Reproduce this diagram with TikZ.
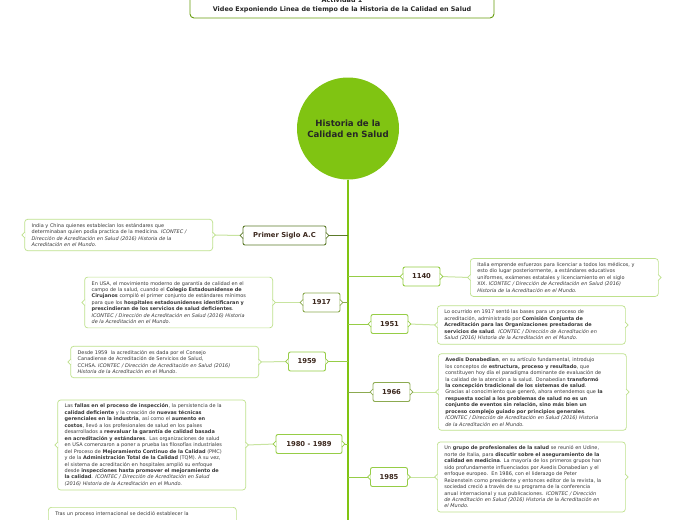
\documentclass[tikz,border=0pt]{standalone}
\usepackage{fontspec}
\setmainfont{DejaVu Sans}
\definecolor{lime}{RGB}{128,196,18}
\definecolor{olive}{RGB}{92,122,42}
\definecolor{midolive}{RGB}{140,170,80}
\definecolor{lightlime}{RGB}{150,205,70}
\definecolor{notegreen}{RGB}{190,225,140}
\definecolor{linkgreen}{RGB}{200,228,160}
\definecolor{datebrown}{RGB}{60,40,30}
\definecolor{notetext}{RGB}{55,55,55}
\tikzset{
  x=1pt,y=-1pt,
  note/.style={draw=notegreen,line width=0.7pt,rounded corners=3pt,fill=white,
    text width=174pt,inner xsep=7pt,inner ysep=4pt,align=left,text=notetext,
    font=\fontsize{4.95}{6.45}\selectfont},
  datebox/.style={draw=lightlime,line width=0.9pt,rounded corners=2pt,fill=white,
    minimum width=37pt,minimum height=19pt,inner xsep=4pt,text=datebrown,
    font=\bfseries\fontsize{6.8}{8}\selectfont},
  trunkline/.style={draw=lime,line width=1.3pt},
  branch/.style={draw=lightlime,line width=1pt},
  link/.style={draw=linkgreen,line width=1pt},
}
\newcommand\chev[2]{%
  \draw[#2,line width=0.7pt,fill=white,shift={(#1.east)}] (-0.6,-3) -- (2.4,0) -- (-0.6,3);
  \draw[#2,line width=0.7pt,fill=white,shift={(#1.west)}] (0.6,-3) -- (-2.4,0) -- (0.6,3);}
\begin{document}
\begin{tikzpicture}
\useasboundingbox (0,0) rectangle (697,520);
\fill[white] (0,0) rectangle (697,520);
% title box
\node[draw=lime!80!black,line width=0.9pt,rounded corners=4pt,minimum width=304pt,minimum height=26pt,
  align=center,font=\bfseries\fontsize{6.4}{8.6}\selectfont,text=black!85] (title) at (342,5)
  {Actividad 1\\Video Exponiendo Linea de tiempo de la Historia de la Calidad en Salud};
% central circle
\node[circle,fill=lime,minimum size=102pt,align=center,font=\bfseries\fontsize{8.6}{11}\selectfont,text=black!85] (root) at (348,128.5)
  {Historia de la\\Calidad en Salud};
\coordinate (tend) at (348,525);
\draw[trunkline] (root.south) -- (tend);
% trunk points
\coordinate (tA) at (348,235.5);
\coordinate (t1140) at (348,276.5);
\coordinate (t1917) at (348,302.5);
\coordinate (t1951) at (348,324);
\coordinate (t1959) at (348,361.5);
\coordinate (t1966) at (348,392);
\coordinate (t1980) at (348,444);
\coordinate (t1985) at (348,477);
% date boxes
\node[datebox,draw=olive,minimum width=83pt] (dA) at (284.5,235.5) {Primer Siglo A.C};
\node[datebox] (d1140) at (421.5,276.5) {1140};
\node[datebox,draw=midolive] (d1917) at (321.5,302.5) {1917};
\node[datebox] (d1951) at (389.5,324) {1951};
\node[datebox] (d1959) at (307,361.5) {1959};
\node[datebox,draw=midolive] (d1966) at (391.5,392) {1966};
\node[datebox,minimum width=66pt] (d1980) at (309,444) {1980 - 1989};
\node[datebox] (d1985) at (389,477) {1985};
% notes
\node[note,anchor=east] (nA) at (213,235) {India y China quienes establecían los estándares que\\
determinaban quien podía practica de la medicina. \textit{ICONTEC /}\\
\textit{Dirección de Acreditación en Salud (2016) Historia de la}\\
\textit{Acreditación en el Mundo.}};
\node[note,anchor=west] (n1140) at (470,277.5) {Italia emprende esfuerzos para licenciar a todos los médicos, y\\
esto dio lugar posteriormente, a estándares educativos\\
uniformes, exámenes estatales y licenciamiento en el siglo\\
XIX. \textit{ICONTEC / Dirección de Acreditación en Salud (2016)}\\
\textit{Historia de la Acreditación en el Mundo.}};
\node[note,anchor=east] (n1917) at (273,302.5) {En USA, el movimiento moderno de garantía de calidad en el\\
campo de la salud, cuando el \textbf{Colegio Estadounidense de}\\
\textbf{Cirujanos} compiló el primer conjunto de estándares mínimos\\
para que los \textbf{hospitales estadounidenses identificaran y}\\
\textbf{prescindieran de los servicios de salud deficientes}.\\
\textit{ICONTEC / Dirección de Acreditación en Salud (2016) Historia}\\
\textit{de la Acreditación en el Mundo.}};
\node[note,anchor=west] (n1951) at (437,325) {Lo ocurrido en 1917 sentó las bases para un proceso de\\
acreditación, administrado por \textbf{Comisión Conjunta de}\\
\textbf{Acreditación para las Organizaciones prestadoras de}\\
\textbf{servicios de salud}. \textit{ICONTEC / Dirección de Acreditación en}\\
\textit{Salud (2016) Historia de la Acreditación en el Mundo.}};
\node[note,anchor=east] (n1959) at (259,362) {Desde 1959\ \ la acreditación es dada por el Consejo\\
Canadiense de Acreditación de Servicios de Salud,\\
CCHSA. \textit{ICONTEC / Dirección de Acreditación en Salud (2016)}\\
\textit{Historia de la Acreditación en el Mundo.}};
\node[note,anchor=west] (n1966) at (438,392) {\textbf{Avedis Donabedian}, en su artículo fundamental, introdujo\\
los conceptos de \textbf{estructura, proceso y resultado}, que\\
constituyen hoy día el paradigma dominante de evaluación de\\
la calidad de la atención a la salud. Donabedian \textbf{transformó}\\
\textbf{la concepción tradicional de los sistemas de salud}.\\
Gracias al conocimiento que generó, ahora entendemos que \textbf{la}\\
\textbf{respuesta social a los problemas de salud no es un}\\
\textbf{conjunto de eventos sin relación, sino más bien un}\\
\textbf{proceso complejo guiado por principios generales}.\\
\textit{ICONTEC / Dirección de Acreditación en Salud (2016) Historia}\\
\textit{de la Acreditación en el Mundo.}};
\node[note,anchor=east] (n1980) at (246,445) {Las \textbf{fallas en el proceso de inspección}, la persistencia de la\\
\textbf{calidad deficiente} y la creación de \textbf{nuevas técnicas}\\
\textbf{gerenciales en la industria}, así como el \textbf{aumento en}\\
\textbf{costos}, llevó a los profesionales de salud en los países\\
desarrollados a \textbf{reevaluar la garantía de calidad basada}\\
\textbf{en acreditación y estándares}. Las organizaciones de salud\\
en USA comenzaron a poner a prueba las filosofías industriales\\
del Proceso de \textbf{Mejoramiento Continuo de la Calidad} (PMC)\\
y de la \textbf{Administración Total de la Calidad} (TQM). A su vez,\\
el sistema de acreditación en hospitales amplió su enfoque\\
desde \textbf{inspecciones hasta promover el mejoramiento de}\\
\textbf{la calidad}. \textit{ICONTEC / Dirección de Acreditación en Salud}\\
\textit{(2016) Historia de la Acreditación en el Mundo.}};
\node[note,anchor=west] (n1985) at (437,477) {Un \textbf{grupo de profesionales de la salud} se reunió en Udine,\\
norte de Italia, para \textbf{discutir sobre el aseguramiento de la}\\
\textbf{calidad en medicina}. La mayoría de los primeros grupos han\\
sido profundamente influenciados por Avedis Donabedian y el\\
enfoque europeo.\ \ En 1986, con el liderazgo de Peter\\
Reizenstein como presidente y entonces editor de la revista, la\\
sociedad creció a través de su programa de la conferencia\\
anual internacional y sus publicaciones. \textit{ICONTEC / Dirección}\\
\textit{de Acreditación en Salud (2016) Historia de la Acreditación en}\\
\textit{el Mundo.}};
\node[note,anchor=north west,minimum height=40pt,text depth=30pt] (nlast) at (48,507) {Tras un proceso internacional se decidió establecer la};
% connectors trunk -> date boxes
\draw[branch,draw=olive] (tA) -- (dA.east);
\draw[branch] (t1140) -- (d1140.west);
\draw[branch,draw=midolive] (t1917) -- (d1917.east);
\draw[branch] (t1951) -- (d1951.west);
\draw[branch] (t1959) -- (d1959.east);
\draw[branch,draw=midolive] (t1966) -- (d1966.west);
\draw[branch] (t1980) -- (d1980.east);
\draw[branch] (t1985) -- (d1985.west);
% connectors date boxes -> notes
\draw[link] (dA.west) -- (nA.east);
\draw[link] (d1140.east) -- (n1140.west);
\draw[link] (d1917.west) -- (n1917.east);
\draw[link] (d1951.east) -- (n1951.west);
\draw[link] (d1959.west) -- (n1959.east);
\draw[link] (d1966.east) -- (n1966.west);
\draw[link] (d1980.west) -- (n1980.east);
\draw[link] (d1985.east) -- (n1985.west);
% chevrons
\chev{dA}{olive}
\chev{d1140}{lightlime}
\chev{d1917}{midolive}
\chev{d1951}{lightlime}
\chev{d1959}{lightlime}
\chev{d1966}{midolive}
\chev{d1980}{lightlime}
\chev{d1985}{lightlime}
\chev{nA}{notegreen}
\chev{n1140}{notegreen}
\chev{n1917}{notegreen}
\chev{n1951}{notegreen}
\chev{n1959}{notegreen}
\chev{n1966}{notegreen}
\chev{n1980}{notegreen}
\chev{n1985}{notegreen}
\end{tikzpicture}
\end{document}
